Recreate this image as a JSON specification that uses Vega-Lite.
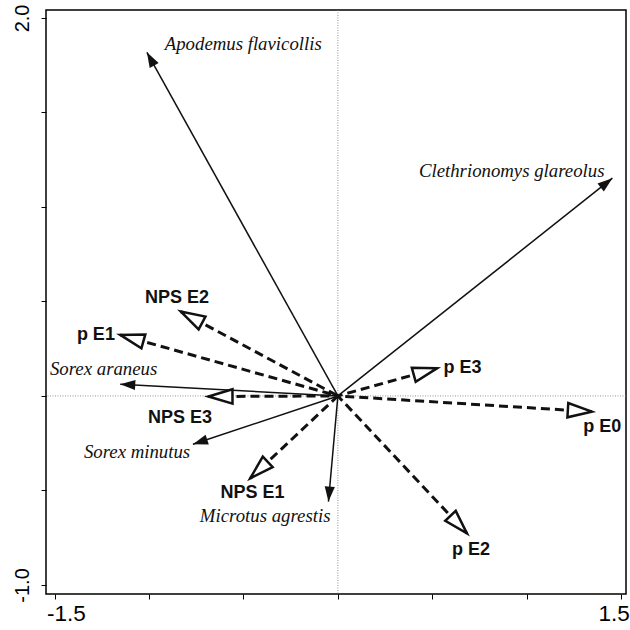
{
  "$schema": "https://vega.github.io/schema/vega-lite/v6.json",
  "width": 580,
  "height": 584,
  "autosize": {"type": "none"},
  "padding": {"left": 46, "top": 10, "right": 4, "bottom": 36},
  "background": "white",
  "config": {
    "view": {"stroke": "#000", "strokeWidth": 1.5},
    "axis": {"grid": false, "domain": false, "ticks": true, "tickColor": "#000", "tickSize": 5, "tickWidth": 1, "labelColor": "#000", "labelFont": "Liberation Sans"}
  },
  "data": {
    "values": [
      {"name": "Apodemus flavicollis", "type": "species", "x": -1.011, "y": 1.818, "lx": -0.501, "ly": 1.831},
      {"name": "Clethrionomys glareolus", "type": "species", "x": 1.453, "y": 1.152, "lx": 0.92, "ly": 1.16},
      {"name": "Sorex araneus", "type": "species", "x": -1.152, "y": 0.062, "lx": -1.24, "ly": 0.111},
      {"name": "Sorex minutus", "type": "species", "x": -0.767, "y": -0.256, "lx": -1.063, "ly": -0.33},
      {"name": "Microtus agrestis", "type": "species", "x": -0.05, "y": -0.559, "lx": -0.385, "ly": -0.665},
      {"name": "NPS E2", "type": "env", "x": -0.831, "y": 0.446, "lx": -0.852, "ly": 0.494},
      {"name": "p E1", "type": "env", "x": -1.152, "y": 0.323, "lx": -1.281, "ly": 0.296},
      {"name": "NPS E3", "type": "env", "x": -0.685, "y": -0.003, "lx": -0.836, "ly": -0.145},
      {"name": "NPS E1", "type": "env", "x": -0.464, "y": -0.436, "lx": -0.452, "ly": -0.541},
      {"name": "p E3", "type": "env", "x": 0.524, "y": 0.146, "lx": 0.659, "ly": 0.123},
      {"name": "p E0", "type": "env", "x": 1.344, "y": -0.083, "lx": 1.399, "ly": -0.189},
      {"name": "p E2", "type": "env", "x": 0.683, "y": -0.727, "lx": 0.704, "ly": -0.841}
    ]
  },
  "transform": [{"calculate": "atan2(datum.x, datum.y) * 180 / PI", "as": "ang"}],
  "encoding": {
    "x": {"field": "x", "type": "quantitative", "scale": {"domain": [-1.545, 1.525], "nice": false, "zero": false},
      "axis": {"title": null, "values": [-1.5, -1, -0.5, 0, 0.5, 1, 1.5], "labelExpr": "datum.value == -1.5 ? '-1.5' : datum.value == 1.5 ? '1.5' : ''", "labelFontSize": 22.5, "labelFlush": 30, "labelFlushOffset": 8, "labelPadding": 3, "labelOverlap": false, "labelBound": false}},
    "y": {"field": "y", "type": "quantitative", "scale": {"domain": [-1.048, 2.042], "nice": false, "zero": false},
      "axis": {"title": null, "values": [-1, -0.5, 0, 0.5, 1, 1.5, 2], "labelExpr": "datum.value == 2 ? '2.0' : datum.value == -1 ? '-1.0' : ''", "labelAngle": 270, "labelFontSize": 20,
        "labelBaseline": "bottom",
        "labelPadding": 9, "labelOverlap": false, "labelBound": false,
        "encode": {"labels": {"update": {
          "align": {"signal": "datum.value > 0.5 ? 'right' : 'left'"},
          "dx": {"signal": "datum.value > 0.5 ? 7.3 : -6.5"}
        }}}}}
  },
  "layer": [
    {
      "data": {"values": [{"x": 0, "y": 0}]},
      "mark": {"type": "rule", "color": "#777", "strokeDash": [1, 1.5], "strokeWidth": 0.8},
      "encoding": {"y": null}
    },
    {
      "data": {"values": [{"x": 0, "y": 0}]},
      "mark": {"type": "rule", "color": "#777", "strokeDash": [1, 1.5], "strokeWidth": 0.8},
      "encoding": {"x": null}
    },
    {
      "transform": [{"filter": "datum.type == 'species'"}],
      "mark": {"type": "rule", "color": "#111", "strokeWidth": 1.5},
      "encoding": {
        "x2": {"datum": 0},
        "y2": {"datum": 0}
      }
    },
    {
      "transform": [{"filter": "datum.type == 'env'"}],
      "mark": {"type": "rule", "color": "#111", "strokeWidth": 3, "strokeDash": [9, 5], "strokeCap": "butt"},
      "encoding": {
        "x2": {"datum": 0},
        "y2": {"datum": 0}
      }
    },
    {
      "transform": [{"filter": "datum.type == 'species'"}],
      "mark": {"type": "point", "filled": true, "fill": "#111", "opacity": 1, "shape": "M0,0L-0.34,1L0.34,1Z", "size": 900},
      "encoding": {
        "angle": {"field": "ang", "type": "quantitative", "scale": null}
      }
    },
    {
      "transform": [{"filter": "datum.type == 'env'"}],
      "mark": {"type": "point", "filled": true, "fill": "white", "stroke": "#111", "strokeWidth": 2.5, "strokeJoin": "miter", "opacity": 1, "shape": "M0,0L-0.3,1L0.3,1Z", "size": 2304},
      "encoding": {
        "angle": {"field": "ang", "type": "quantitative", "scale": null}
      }
    },
    {
      "transform": [{"filter": "datum.type == 'species'"}],
      "mark": {"type": "text", "font": "Liberation Serif", "fontStyle": "italic", "fontSize": 18.8, "align": "center", "baseline": "alphabetic", "color": "#111"},
      "encoding": {
        "x": {"field": "lx", "type": "quantitative"},
        "y": {"field": "ly", "type": "quantitative"},
        "text": {"field": "name"}
      }
    },
    {
      "transform": [{"filter": "datum.type == 'env'"}],
      "mark": {"type": "text", "font": "Liberation Sans", "fontWeight": "bold", "fontSize": 18, "align": "center", "baseline": "alphabetic", "color": "#111"},
      "encoding": {
        "x": {"field": "lx", "type": "quantitative"},
        "y": {"field": "ly", "type": "quantitative"},
        "text": {"field": "name"}
      }
    }
  ]
}
